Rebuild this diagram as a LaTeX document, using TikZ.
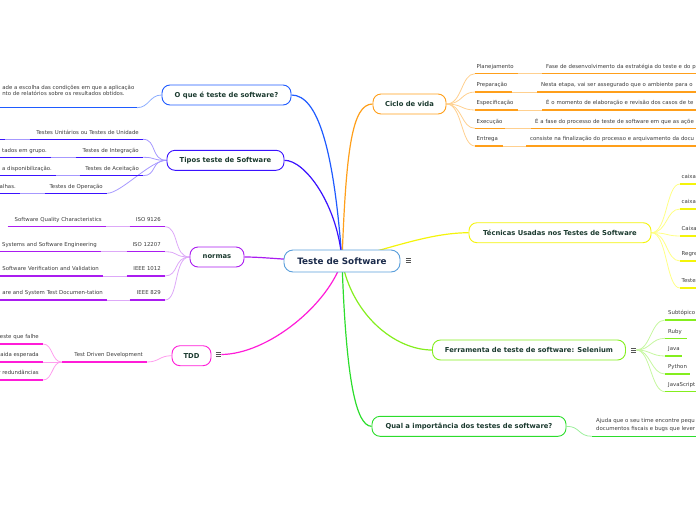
\documentclass[tikz,border=0pt]{standalone}
\usepackage{fontspec}
\setmainfont{DejaVu Sans}
\usetikzlibrary{backgrounds}
\definecolor{rootline}{HTML}{5A9FDB}
\definecolor{roottxt}{HTML}{1B2B4B}
\definecolor{titletxt}{HTML}{1B3A2F}
\definecolor{leaftxt}{HTML}{3C3C3C}
\definecolor{menucol}{HTML}{555555}
\definecolor{dBlue}{HTML}{1F5BFF}\definecolor{lBlue}{HTML}{8DAEFF}
\definecolor{dViolet}{HTML}{3A12FF}\definecolor{lViolet}{HTML}{A698FF}
\definecolor{dPurple}{HTML}{AA1CF0}\definecolor{lPurple}{HTML}{DDA8F8}
\definecolor{dMag}{HTML}{FF1CD8}\definecolor{lMag}{HTML}{FF9EEE}
\definecolor{dOrange}{HTML}{FF9F1A}\definecolor{lOrange}{HTML}{FFD08F}
\definecolor{dYellow}{HTML}{F4F40A}\definecolor{lYellow}{HTML}{FFFF85}
\definecolor{dLime}{HTML}{84EE1E}\definecolor{lLime}{HTML}{C6F7A0}
\definecolor{dGreen}{HTML}{2CDD2C}\definecolor{lGreen}{HTML}{9CEF9C}
\newcommand\leafr[1]{\makebox[\linewidth][r]{#1}}
\newcommand\leafl[1]{\makebox[\linewidth][l]{#1}}
\begin{document}
\begin{tikzpicture}[x=1pt,y=-1pt,
  topic/.style={draw=#1, fill=white, rounded corners=8pt, line width=0.9pt, inner sep=0pt,
    minimum height=20pt, font=\bfseries\fontsize{6.8}{8}\selectfont, text=titletxt},
  leaftext/.style={font=\fontsize{5.4}{6.5}\selectfont, text=leaftxt},
  leafbase/.style={leaftext, inner ysep=3.6pt, text height=4.2pt, text depth=1.3pt},
  leafL/.style={leafbase, anchor=south east, inner xsep=4pt},
  leafR/.style={leafbase, anchor=south west, inner xsep=1.5pt},
  leafRg/.style={leafbase, anchor=south west, inner xsep=4pt},
  ul/.style={draw=#1, line width=1.4pt},
  lc/.style={draw=#1, line width=0.8pt},
  mainc/.style={draw=#1, line width=1.2pt},
  menuicon/.style={minimum width=5.5pt, minimum height=6pt, inner sep=0pt,
    path picture={
      \foreach \s in {-2,0,2}
        \draw[menucol, line width=0.6pt] ([yshift=\s pt]path picture bounding box.west) -- ([yshift=\s pt]path picture bounding box.east);
    }}
]
\path[use as bounding box] (0,0) rectangle (696,520);
\clip (0,0) rectangle (696,520);

% central and main topics
\node[draw=rootline, fill=white, rounded corners=9pt, line width=0.9pt, minimum width=116pt,
  minimum height=22pt, inner sep=0pt, font=\bfseries\fontsize{8.8}{10}\selectfont, text=roottxt]
  (root) at (342,261) {Teste de Software};
\node[topic=dBlue, minimum width=129pt] (oque) at (226.5,95) {O que é teste de software?};
\node[topic=dViolet, minimum width=117pt] (tipos) at (225.5,160.3) {Tipos teste de Software};
\node[topic=dPurple, minimum width=54pt] (normas) at (217,257) {normas};
\node[topic=dMag, minimum width=39pt] (tdd) at (191.5,355.7) {TDD};
\node[topic=dOrange, minimum width=73pt] (ciclo) at (409.5,104) {Ciclo de vida};
\node[topic=dYellow, minimum width=182pt] (tecnicas) at (560,232.7) {Técnicas Usadas nos Testes de Software};
\node[topic=dLime, minimum width=193pt] (ferr) at (529,350) {Ferramenta de teste de software: Selenium};
\node[topic=dGreen, minimum width=194pt] (qual) at (469,426.3) {Qual a importância dos testes de software?};

\node[menuicon] (rmenu) at (408.5,260.5) {};
\node[menuicon] (tmenu) at (218.5,354.5) {};
\node[menuicon] (fmenu) at (633.5,350) {};

% O que e
\node[leaftext, anchor=south east, align=left, inner xsep=2.5pt, inner ysep=11.5pt,
  font=\fontsize{5.4}{6}\selectfont] (oq1) at (137,107.7)
  {ade a escolha das condições em que a aplicação\\nto de relatórios sobre os resultados obtidos.};

% Tipos
\node[leafL, text width=105pt] (t1) at (143,139.3) {\leafr{Testes Unitários ou Testes de Unidade}};
\node[leafL, text width=59pt] (t2) at (143,157.3) {\leafr{Testes de Integração}};
\node[leafL, text width=55pt] (t3) at (143,175.7) {\leafr{Testes de Aceitação}};
\node[leafL, text width=54pt] (t4) at (107,193.3) {\leafr{Testes de Operação}};
\node[leafL, inner xsep=0pt, text width=8pt] (t1g) at (5,139.3) {};
\node[leafL, text width=83pt] (t2g) at (51,157.3) {\leafr{tados em grupo.}};
\node[leafL, text width=88pt] (t3g) at (56,175.7) {\leafr{a disponibilização.}};
\node[leafL, text width=52pt] (t4g) at (20,193.3) {\leafr{alhas.}};

% normas
\node[leafL, text width=27pt] (n1) at (165,226.7) {\leafr{ISO 9126}};
\node[leafL, text width=30pt] (n2) at (165,251.7) {\leafr{ISO 12207}};
\node[leafL, text width=30pt] (n3) at (165,276) {\leafr{IEEE 1012}};
\node[leafL, text width=27pt] (n4) at (165,300) {\leafr{IEEE 829}};
\node[leafL, text width=90pt] (n1g) at (106,226.7) {\leafr{Software Quality Characteristics}};
\node[leafL, text width=133pt] (n2g) at (101,251.7) {\leafr{Systems and Software Engineering}};
\node[leafL, text width=135pt] (n3g) at (103,276) {\leafr{Software Verification and Validation}};
\node[leafL, text width=139pt] (n4g) at (107,300) {\leafr{are and System Test Documen-tation}};

% TDD
\node[leafL, text width=77pt] (d1) at (147,362) {\leafr{Test Driven Development}};
\node[leafL, text width=75pt] (d1a) at (43,344) {\leafr{este que falhe}};
\node[leafL, text width=75pt] (d1b) at (43,362) {\leafr{aida esperada}};
\node[leafL, text width=75pt] (d1c) at (43,380) {\leafr{r redundâncias}};

% Ciclo de vida
\node[leafR, text width=40pt] (c1) at (475,73.7) {\leafl{Planejamento}};
\node[leafR, text width=34pt] (c2) at (475,92) {\leafl{Preparação}};
\node[leafR, text width=40pt] (c3) at (475,110) {\leafl{Especificação}};
\node[leafR, text width=27pt] (c4) at (475,128.3) {\leafl{Execução}};
\node[leafR, text width=25pt] (c5) at (475,146) {\leafl{Entrega}};
\node[leafRg, text width=190pt] (c1g) at (542,73.7) {\leafl{Fase de desenvolvimento da estratégia do teste e do p}};
\node[leafRg, text width=190pt] (c2g) at (537,92) {\leafl{Nesta etapa, vai ser assegurado que o ambiente para o}};
\node[leafRg, text width=190pt] (c3g) at (542,110) {\leafl{É o momento de elaboração e revisão dos casos de te}};
\node[leafRg, text width=190pt] (c4g) at (531,128.3) {\leafl{É a fase do processo de teste de software em que as açõe}};
\node[leafRg, text width=190pt] (c5g) at (526,146) {\leafl{consiste na finalização do processo e arquivamento da docu}};

% Tecnicas
\node[leafR, text width=57pt] (k1) at (680,184) {\leafl{caixa}};
\node[leafR, text width=57pt] (k2) at (680,209) {\leafl{caixa}};
\node[leafR, text width=57pt] (k3) at (680,236) {\leafl{Caixa}};
\node[leafR, text width=57pt] (k4) at (680,261) {\leafl{Regre}};
\node[leafR, text width=57pt] (k5) at (680,288) {\leafl{Testes}};

% Ferramenta
\node[leafR, inner xsep=3pt, text width=49pt] (f1) at (665,320) {\leafl{Subtópico}};
\node[leafR, inner xsep=3pt, text width=16pt] (f2) at (665,338.3) {\leafl{Ruby}};
\node[leafR, inner xsep=3pt, text width=11pt] (f3) at (665,356) {\leafl{Java}};
\node[leafR, inner xsep=3pt, text width=19pt] (f4) at (665,374) {\leafl{Python}};
\node[leafR, inner xsep=3pt, text width=49pt] (f5) at (665,391.7) {\leafl{JavaScript}};

% Qual
\node[leaftext, anchor=south west, align=left, inner xsep=4pt, inner ysep=4.4pt,
  font=\fontsize{5.4}{7.6}\selectfont] (q1) at (592,436.3)
  {Ajuda que o seu time encontre pequ\\documentos fiscais e bugs que lever};

% connectors behind
\begin{pgfonlayer}{background}
\draw[mainc=dBlue] (root.center) .. controls (334,150) and (318,95) .. (oque.east);
\draw[mainc=dViolet] (root.center) .. controls (338,205) and (305,160) .. (tipos.east);
\draw[mainc=dPurple] (root.center) .. controls (290,261) and (268,257) .. (normas.east);
\draw[mainc=dMag] (root.center) .. controls (328,305) and (268,354) .. (tmenu.east);
\draw[mainc=dOrange] (root.center) .. controls (346,150) and (352,104) .. (ciclo.west);
\draw[mainc=dYellow] (root.center) .. controls (405,243) and (435,233) .. (tecnicas.west);
\draw[mainc=dLime] (root.center) .. controls (352,315) and (395,350) .. (ferr.west);
\draw[mainc=dGreen] (root.center) .. controls (346,380) and (356,426) .. (qual.west);

\draw[lc=lBlue] (oque.west) .. controls +(-12,0) and +(12,0) .. (oq1.south east);
\foreach \n in {t1,t2,t3,t4}
  \draw[lc=lViolet] (tipos.west) .. controls +(-16,0) and +(14,0) .. (\n.south east);
\draw[lc=lViolet] (t1.south west) -- (t1g.south east);
\draw[lc=lViolet] (t2.south west) -- (t2g.south east);
\draw[lc=lViolet] (t3.south west) -- (t3g.south east);
\draw[lc=lViolet] (t4.south west) -- (t4g.south east);
\foreach \n in {n1,n2,n3,n4}
  \draw[lc=lPurple] (normas.west) .. controls +(-16,0) and +(14,0) .. (\n.south east);
\draw[lc=lPurple] (n1.south west) -- (n1g.south east);
\draw[lc=lPurple] (n2.south west) -- (n2g.south east);
\draw[lc=lPurple] (n3.south west) -- (n3g.south east);
\draw[lc=lPurple] (n4.south west) -- (n4g.south east);
\draw[lc=lMag] (tdd.west) .. controls +(-12,0) and +(12,0) .. (d1.south east);
\foreach \n in {d1a,d1b,d1c}
  \draw[lc=lMag] (d1.south west) .. controls +(-10,0) and +(10,0) .. (\n.south east);
\foreach \n in {c1,c2,c3,c4,c5}
  \draw[lc=lOrange] (ciclo.east) .. controls +(16,0) and +(-14,0) .. (\n.south west);
\draw[lc=lOrange] (c1.south east) -- (c1g.south west);
\draw[lc=lOrange] (c2.south east) -- (c2g.south west);
\draw[lc=lOrange] (c3.south east) -- (c3g.south west);
\draw[lc=lOrange] (c4.south east) -- (c4g.south west);
\draw[lc=lOrange] (c5.south east) -- (c5g.south west);
\foreach \n in {k1,k2,k3,k4,k5}
  \draw[lc=lYellow] (tecnicas.east) .. controls +(16,0) and +(-14,0) .. (\n.south west);
\foreach \n in {f1,f2,f3,f4,f5}
  \draw[lc=lLime] (fmenu.east) .. controls +(14,0) and +(-14,0) .. (\n.south west);
\draw[lc=lGreen] (qual.east) .. controls +(14,0) and +(-14,0) .. (q1.south west);
\end{pgfonlayer}

% underlines
\draw[ul=dBlue] (oq1.south west) -- (oq1.south east);
\foreach \n in {t1,t2,t3,t4,t1g,t2g,t3g,t4g}
  \draw[ul=dViolet] (\n.south west) -- (\n.south east);
\foreach \n in {n1,n2,n3,n4,n1g,n2g,n3g,n4g}
  \draw[ul=dPurple] (\n.south west) -- (\n.south east);
\foreach \n in {d1,d1a,d1b,d1c}
  \draw[ul=dMag] (\n.south west) -- (\n.south east);
\foreach \n in {c1,c2,c3,c4,c5,c1g,c2g,c3g,c4g,c5g}
  \draw[ul=dOrange] (\n.south west) -- (\n.south east);
\foreach \n in {k1,k2,k3,k4,k5}
  \draw[ul=dYellow] (\n.south west) -- (\n.south east);
\foreach \n in {f1,f2,f3,f4,f5}
  \draw[ul=dLime] (\n.south west) -- (\n.south east);
\draw[ul=dGreen] (q1.south west) -- ++(120,0);
\end{tikzpicture}
\end{document}
